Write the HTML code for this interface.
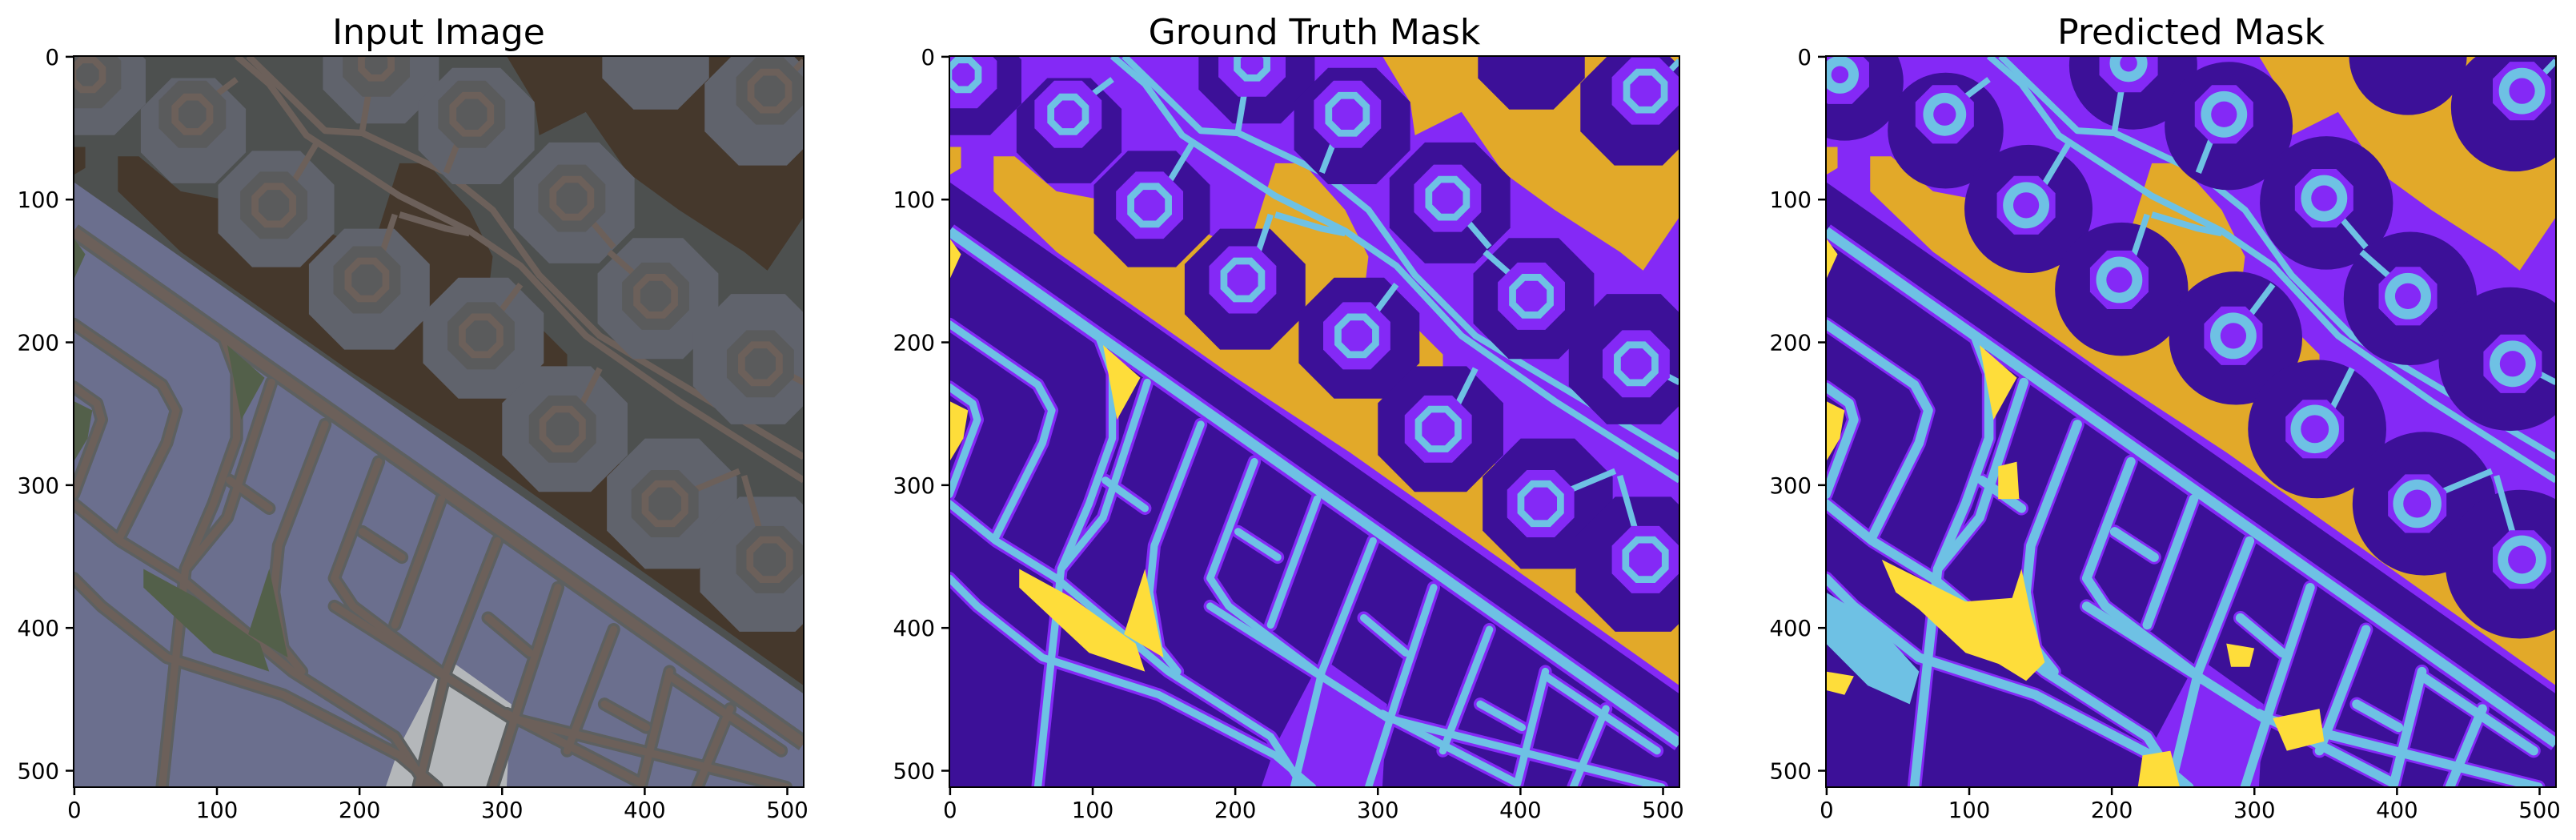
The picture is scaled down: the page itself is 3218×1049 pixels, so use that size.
<!DOCTYPE html>
<html><head><meta charset="utf-8"><style>
html,body{margin:0;padding:0;background:#fff;}
#root{position:relative;width:3218px;height:1049px;overflow:hidden;}
text{font-family:"DejaVu Sans","Liberation Sans",sans-serif;fill:#000;}
</style></head><body>
<div id="root">
<svg id="fig" width="3218" height="1049" viewBox="0 0 3218 1049" xmlns="http://www.w3.org/2000/svg"></svg>
</div>
<script>
// ---- data ----
const panelTitles = ["Input Image", "Ground Truth Mask", "Predicted Mask"];
const panelLefts = [92, 1186, 2281];
const xTicks = [0, 100, 200, 300, 400, 500];
const yTicks = [0, 100, 200, 300, 400, 500];
const imgSize = 512;

const NS = "http://www.w3.org/2000/svg";
const fig = document.getElementById('fig');
const TOP = 70, W = 912, H = 913;

// geometry in 1568-unit image space
const darkOcts = [[40,55,115],[257,160,113],[435,328,125],[660,20,125],[865,150,125],[635,500,130],[880,605,130],[1075,315,130],[1250,0,115],[1480,110,125],[1255,520,130],[1470,650,140],[1055,800,135],[1285,960,140],[1490,1090,145]];
const rings = [[30,40,30],[255,125,35],[430,320,38],[650,15,30],[855,125,38],[630,480,38],[875,600,38],[1070,305,38],[1495,75,38],[1250,515,38],[1475,660,38],[1050,800,40],[1270,960,40],[1495,1080,40]];
const stems = [[290,95,350,50],[460,290,520,190],[835,160,800,250],[650,460,690,340],[900,570,960,490],[1100,340,1160,410],[1230,490,1150,420],[1510,670,1568,700],[1080,770,1130,670],[1310,940,1430,890],[1480,1040,1440,900],[1520,60,1568,10],[640,40,620,160]];
const upperRoads = ["350,0 420,60 500,170 700,300 850,375 960,450 1100,600 1300,740 1568,910","375,0 540,160 620,165 800,250 900,330 1000,470 1130,600 1568,860","700,340 800,370 850,380"];
const lowerRoads = ["0,575 190,705 220,760 200,830 100,1030","0,710 50,745 60,780 0,940","320,600 350,680 350,820 300,960 240,1100 215,1330 190,1568","0,960 100,1040 230,1120 470,1320 690,1460 760,1568","0,1120 60,1180 200,1290 450,1370 700,1500 780,1568","425,700 330,990 240,1100","540,790 440,1050 430,1150 450,1270 490,1320","655,870 560,1120 600,1180 800,1330","790,950 690,1220","910,1040 800,1320 740,1568","1040,1140 960,1380 900,1568","1160,1230 1060,1490","1280,1320 1220,1560","1410,1400 1340,1568","930,1410 1220,1560","1280,1330 1520,1490","560,1180 940,1420 1530,1568","335,910 420,970","620,1020 705,1075","890,1205 980,1280","1140,1390 1230,1440"];
const goldPolys = ["95,215 140,215 230,290 440,330 640,420 700,230 760,230 850,330 900,430 880,600 1000,580 1060,640 1060,800 1300,960 1500,1090 1568,1090 1568,1350 860,850 600,680 230,420 95,290","930,0 1568,0 1568,345 1490,460 1440,420 1300,330 1190,250 1100,120 1000,170 990,100","0,195 25,195 25,240 0,255"];
const yellowPolys = ["330,620 410,690 360,780 345,700","0,390 25,425 0,480","0,740 40,760 30,820 0,870","150,1100 260,1160 400,1260 420,1320 300,1280 150,1140","375,1240 420,1100 460,1290"];
const predYellow = ["120,1080 300,1170 430,1160 470,1300 430,1340 300,1260 150,1150","680,1500 740,1490 760,1568 670,1568","960,1420 1060,1400 1070,1470 990,1490","860,1260 920,1270 910,1310 870,1310","370,880 410,870 415,950 370,950","0,1320 60,1330 40,1370 0,1360"];
const violetBlock = "800,1290 940,1390 930,1568 670,1568 700,1480";

function oct(cx,cy,r){let p=[];for(let k=0;k<8;k++){const a=(22.5+45*k)*Math.PI/180;p.push((cx+r*Math.cos(a)).toFixed(1)+','+(cy+r*Math.sin(a)).toFixed(1));}return p.join(' ');}

function scene(c, variant){
  let s = `<rect width="1568" height="1568" fill="${c.land}"/>`;
  goldPolys.forEach(p=>{s+=`<polygon points="${p}" fill="${c.water}"/>`;});
  s += `<polygon points="0,270 1568,1368 1568,1472 0,374" fill="${c.build}"/>`;
  s += `<polygon points="0,380 1568,1478 1568,1568 0,1568" fill="${c.build}"/>`;
  s += `<polygon points="${violetBlock}" fill="${c.block||c.land}"/>`;
  lowerRoads.forEach(p=>{s+=`<polyline points="${p}" fill="none" stroke="${c.edge||c.land}" stroke-width="${variant==='pred'?30:28}" stroke-linejoin="round" stroke-linecap="round"/>`;});
  s += `<line x1="0" y1="376" x2="1568" y2="1474" stroke="${c.edge||c.land}" stroke-width="36"/>`;
  lowerRoads.forEach(p=>{s+=`<polyline points="${p}" fill="none" stroke="${c.road}" stroke-width="${variant==='pred'?20:16}" stroke-linejoin="round" stroke-linecap="round"/>`;});
  s += `<line x1="0" y1="376" x2="1568" y2="1474" stroke="${c.road}" stroke-width="22"/>`;
  yellowPolys.forEach(p=>{s+=`<polygon points="${p}" fill="${c.veg}"/>`;});
  if(variant==='pred'){
    s += `<polygon points="0,1150 100,1210 200,1320 180,1390 90,1350 0,1260" fill="${c.road}"/>`;
    predYellow.forEach(p=>{s+=`<polygon points="${p}" fill="${c.veg}"/>`;});
  }
  upperRoads.forEach(p=>{s+=`<polyline points="${p}" fill="none" stroke="${c.road}" stroke-width="14" stroke-linejoin="round"/>`;});
  const cb = c.circ || c.build;
  darkOcts.forEach(o=>{
    if(variant==='pred') s+=`<circle cx="${o[0]}" cy="${o[1]}" r="${o[2]*1.1}" fill="${cb}"/>`;
    else s+=`<polygon points="${oct(o[0],o[1],o[2]*1.08)}" fill="${cb}"/>`;
  });
  stems.forEach(t=>{s+=`<line x1="${t[0]}" y1="${t[1]}" x2="${t[2]}" y2="${t[3]}" stroke="${c.road}" stroke-width="13"/>`;});
  rings.forEach(r=>{
    const halo = variant==='pred'?68:78;
    const rr = r[2]*1.15;
    s+=`<polygon points="${oct(r[0],r[1],halo)}" fill="${c.ringland||c.land}"/>`;
    if(variant==='pred'){
      s+=`<circle cx="${r[0]}" cy="${r[1]}" r="${rr+6}" fill="${c.road}"/><circle cx="${r[0]}" cy="${r[1]}" r="${rr-16}" fill="${c.land}"/>`;
    } else {
      s+=`<polygon points="${oct(r[0],r[1],rr)}" fill="${c.ringland||c.land}" stroke="${c.road}" stroke-width="15"/>`;
    }
  });
  return s;
}

const palMask = {land:'#8429F6', build:'#3C1098', road:'#6EC1E4', water:'#E2A929', veg:'#FEDD3A'};
const palPhoto = {land:'#4d504f', build:'#6b6f8e', circ:'#60636c', ringland:'#5a5b5c', edge:'#5d6060', road:'#6c605a', water:'#45382c', veg:'#53604a', block:'#b4b7ba'};
const palettes = [palPhoto, palMask, palMask];
const variants = ['photo','gt','pred'];
const panelNames = ['input-image','ground-truth-mask','predicted-mask'];

function px(left, v){ return left + (v + 0.5) * W / imgSize; }
function py(v){ return TOP + (v + 0.5) * H / imgSize; }

panelLefts.forEach((left, i) => {
  const g = document.createElementNS(NS,'g');
  
  
  fig.appendChild(g);

  const img = document.createElementNS(NS,'svg');
  img.setAttribute('x', left); img.setAttribute('y', TOP);
  img.setAttribute('width', W); img.setAttribute('height', H);
  img.setAttribute('viewBox', '0 0 1568 1568');
  img.setAttribute('preserveAspectRatio', 'none');
  
  
  img.innerHTML = scene(palettes[i], variants[i]);
  g.appendChild(img);

  const frame = document.createElementNS(NS,'rect');
  frame.setAttribute('x', left); frame.setAttribute('y', TOP);
  frame.setAttribute('width', W); frame.setAttribute('height', H);
  frame.setAttribute('fill', 'none'); frame.setAttribute('stroke', '#000'); frame.setAttribute('stroke-width', '2');
  
  
  g.appendChild(frame);

  const title = document.createElementNS(NS,'text');
  title.setAttribute('x', left + W/2); title.setAttribute('y', 55);
  title.setAttribute('text-anchor', 'middle'); title.setAttribute('font-size', '44');
  
  
  title.textContent = panelTitles[i];
  g.appendChild(title);

  xTicks.forEach(v => {
    const x = px(left, v);
    const t = document.createElementNS(NS,'line');
    t.setAttribute('x1', x); t.setAttribute('x2', x);
    t.setAttribute('y1', TOP + H); t.setAttribute('y2', TOP + H + 10);
    t.setAttribute('stroke', '#000'); t.setAttribute('stroke-width', '2.5');
    
    
    g.appendChild(t);
    const l = document.createElementNS(NS,'text');
    l.setAttribute('x', x); l.setAttribute('y', TOP + H + 38);
    l.setAttribute('text-anchor', 'middle'); l.setAttribute('font-size', '27.5');
    
    
    l.textContent = v;
    g.appendChild(l);
  });
  yTicks.forEach(v => {
    const y = py(v);
    const t = document.createElementNS(NS,'line');
    t.setAttribute('x1', left - 10); t.setAttribute('x2', left);
    t.setAttribute('y1', y); t.setAttribute('y2', y);
    t.setAttribute('stroke', '#000'); t.setAttribute('stroke-width', '2.5');
    
    
    g.appendChild(t);
    const l = document.createElementNS(NS,'text');
    l.setAttribute('x', left - 18); l.setAttribute('y', y + 10);
    l.setAttribute('text-anchor', 'end'); l.setAttribute('font-size', '27.5');
    
    
    l.textContent = v;
    g.appendChild(l);
  });
});
</script>
</body></html>
